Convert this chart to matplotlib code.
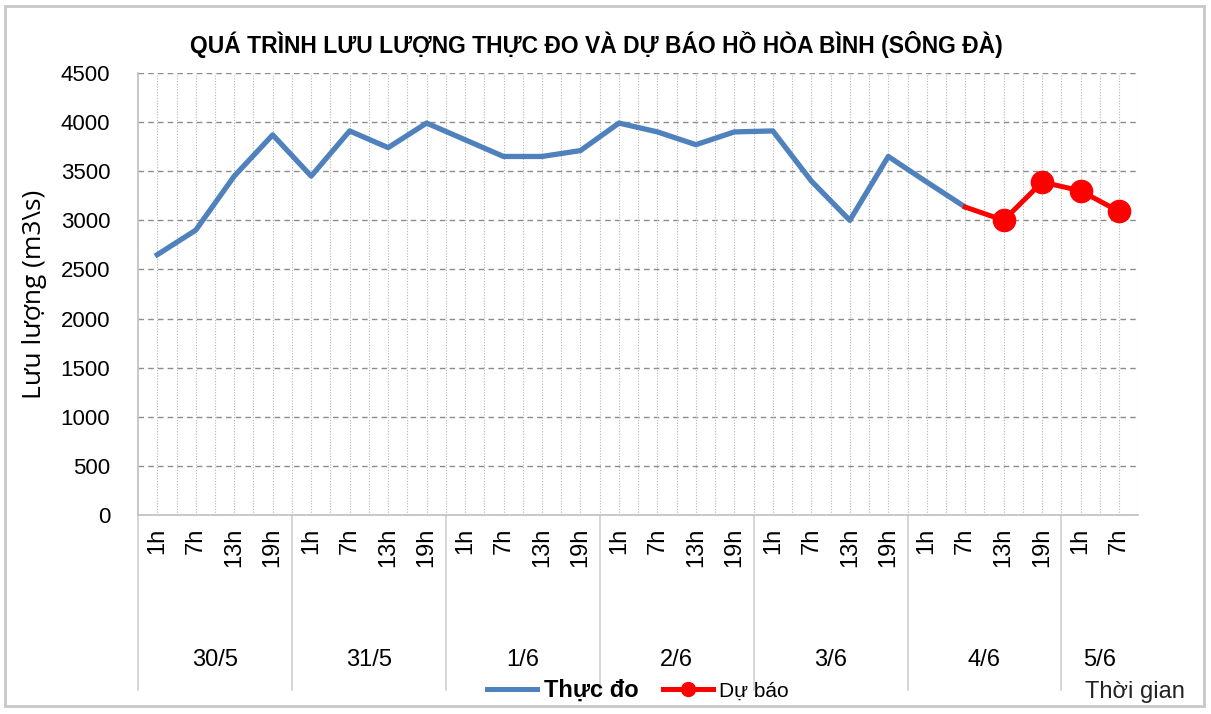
import matplotlib
matplotlib.use('Agg')
import matplotlib.pyplot as plt
from matplotlib.patches import Rectangle
from matplotlib.lines import Line2D
from matplotlib.transforms import blended_transform_factory

plt.rcParams['font.family'] = ['Liberation Sans', 'DejaVu Sans']

# Data
dates = ['30/5', '31/5', '1/6', '2/6', '3/6', '4/6', '5/6']
hours_per_date = [['1h', '7h', '13h', '19h']] * 6 + [['1h', '7h']]
hour_labels = [h for hs in hours_per_date for h in hs]

observed = [2650, 2900, 3450, 3870, 3450, 3910, 3740, 3990, 3820, 3650, 3650,
            3710, 3990, 3900, 3770, 3900, 3910, 3400, 3000, 3650, 3390, 3135]
forecast_start = 21
forecast = [3135, 3000, 3390, 3300, 3090]

title = 'QUÁ TRÌNH LƯU LƯỢNG THỰC ĐO VÀ DỰ BÁO HỒ HÒA BÌNH (SÔNG ĐÀ)'
ylabel = 'Lưu lượng (m3\\s)'
xlabel = 'Thời gian'
legend_labels = ['Thực đo', 'Dự báo']

blue = '#4F81BD'
red = '#FF0000'

fig = plt.figure(figsize=(12.11, 7.14), dpi=100)
ax = fig.add_axes([0.114, 0.2787, 0.826, 0.6191])

n = len(hour_labels)
x_obs = list(range(len(observed)))
x_fc = list(range(forecast_start, forecast_start + len(forecast)))

ax.plot(x_obs, observed, color=blue, lw=3.8, zorder=3)
ax.plot(x_fc, forecast, color=red, lw=3.6, zorder=4)
ax.plot(x_fc[1:], forecast[1:], 'o', color=red, ms=16, zorder=5)

ax.set_xlim(-0.5, n - 0.5)
ax.set_ylim(0, 4500)
ax.set_yticks(range(0, 4501, 500))
ax.tick_params(axis='y', length=0, labelsize=16, pad=20)
ax.set_xticks([])

# grid
for yv in range(500, 4501, 500):
    ax.axhline(yv, color='#8c8c8c', lw=1.0, ls=(0, (4, 3)), zorder=1)
for i in range(1, 2 * n + 1):
    xv = -0.5 + i * 0.5
    ax.axvline(xv, color='#b5b5b5', lw=0.8, ls=(0, (1, 1.5)), zorder=1)

for s in ['top', 'right']:
    ax.spines[s].set_visible(False)
ax.spines['left'].set_color('#bfbfbf')
ax.spines['bottom'].set_color('#bfbfbf')
ax.spines['left'].set_linewidth(1.2)
ax.spines['bottom'].set_linewidth(1.2)

ax.set_ylabel(ylabel, fontsize=19, family=['Open Sans', 'DejaVu Sans'], labelpad=10)

# multi-level category axis
tr = blended_transform_factory(ax.transData, fig.transFigure)
for i, h in enumerate(hour_labels):
    ax.text(i, 1 - 528 / 714, h, transform=tr, rotation=90, ha='center', va='top',
            fontsize=17)
start = 0
bounds = [-0.5]
for d, hs in zip(dates, hours_per_date):
    mid = start + (len(hs) - 1) / 2
    ax.text(mid, 1 - 660 / 714, d, transform=tr, ha='center', va='center', fontsize=17)
    start += len(hs)
    bounds.append(start - 0.5)
for b in bounds[:-1]:
    ax.add_line(Line2D([b, b], [1 - 515 / 714, 1 - 690 / 714], transform=tr,
                       color='#d0d0d0', lw=1.2, clip_on=False))

fig.text(1185 / 1211, 1 - 692 / 714, xlabel, ha='right', va='center', fontsize=17,
         color='#222222')

# legend
handles = [Line2D([], [], color=blue, lw=3.6),
           Line2D([], [], color=red, lw=3.6, marker='o', ms=10)]
leg = fig.legend(handles, legend_labels, loc='center', bbox_to_anchor=(0.527, 1 - 690 / 714),
                 ncol=2, frameon=False, fontsize=15, handlelength=2.4,
                 handletextpad=0.3, columnspacing=1.2)
leg.get_texts()[0].set_fontsize(17)
leg.get_texts()[0].set_fontweight('bold')

fig.text(596 / 1211, 1 - 45 / 714, title, ha='center', va='center', fontsize=16.5,
         fontweight='bold')

fig.patches.append(Rectangle((5 / 1211, 8 / 714), 1199 / 1211, 700 / 714,
                             transform=fig.transFigure, fill=False,
                             edgecolor='#c8c8c8', lw=2))

fig.savefig('out.png', dpi=100)
